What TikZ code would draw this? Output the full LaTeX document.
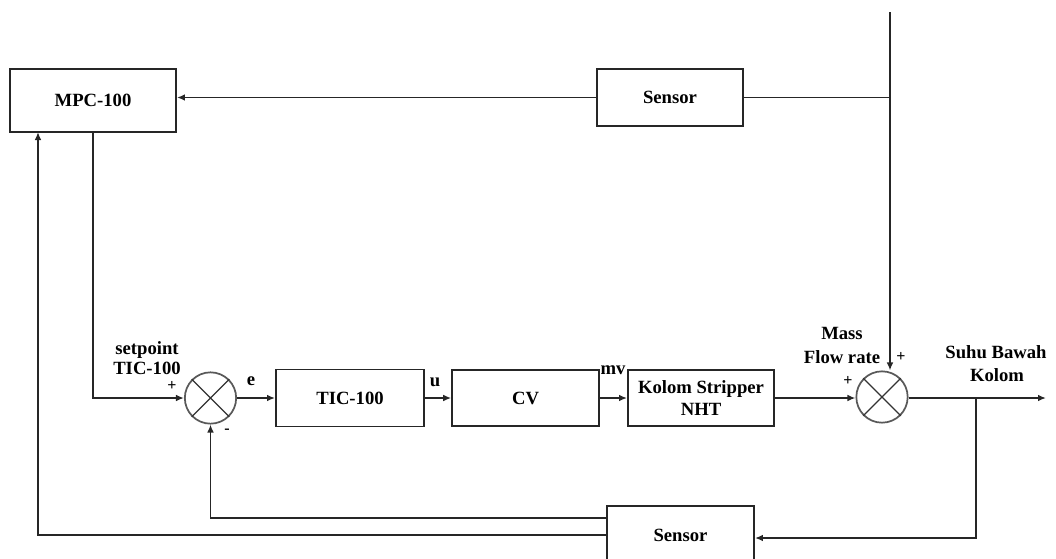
\documentclass[tikz,border=0pt]{standalone}
\usepackage{fontspec}
\setmainfont{Liberation Serif}
\usetikzlibrary{arrows.meta}
\begin{document}
\begin{tikzpicture}[x=0.75pt,y=-0.75pt,
  line width=1.3pt, draw=black!85,
  blk/.style={draw, line width=1.4pt, rectangle, inner sep=0pt, font=\fontsize{14}{17}\selectfont\bfseries, align=center},
  sumj/.style={draw=black!65, line width=1.3pt, circle, inner sep=0pt, minimum size=38.5pt},
  lbl/.style={font=\fontsize{14}{17}\selectfont\bfseries, inner sep=0pt, align=center},
  sgn/.style={font=\fontsize{12}{14}\selectfont\bfseries, inner sep=0pt},
  arr/.style={-{Latex[length=6pt,width=5pt]}}]
\clip (0,0) rectangle (1056,558);
\path[use as bounding box] (0,0) rectangle (1056,558);

\node[blk, minimum width=124.5pt, minimum height=47.25pt] (mpc) at (93,100.5) {MPC-100};
\node[blk, minimum width=109.5pt, minimum height=42.75pt] (senT) at (670,97.5) {Sensor};
\node[sumj] (sum1) at (210.5,398) {};
\node[blk, minimum width=111pt, minimum height=42.75pt] (tic) at (350,398) {TIC-100};
\node[blk, minimum width=110pt, minimum height=42pt] (cv) at (525.5,398) {CV};
\node[blk, minimum width=109.5pt, minimum height=42pt] (kol) at (701,398) {Kolom Stripper\\NHT};
\node[sumj] (sum2) at (882,397) {};
\node[blk, minimum width=110.25pt, minimum height=43.5pt] (senB) at (680.5,535) {Sensor};

\foreach \s in {sum1,sum2}{
  \draw[draw=black!80, line width=1pt] (\s.45) -- (\s.225) (\s.135) -- (\s.315);
}

\coordinate (top) at (890,12);
\coordinate (out) at (1046,398);
\coordinate (br) at (976,398);
\coordinate (fb) at (38,132);

% top sensor loop
\draw[arr] (top) -- (top |- sum2.north);
\draw (senT.east) -- (senT.east -| top);
\draw[arr] (senT.west) -- (senT.west -| mpc.east);

% MPC to summing junction
\draw[arr] (mpc.south) |- (sum1.west);

% forward path
\draw[arr] (sum1.east) -- (tic.west);
\draw[arr] (tic.east) -- (cv.west);
\draw[arr] (cv.east) -- (kol.west);
\draw[arr] (kol.east) -- (kol.east -| sum2.west);
\draw[arr] (sum2.east |- kol.east) -- (out);

% bottom feedback
\draw[arr] (br) |- ([yshift=-2.25pt]senB.east);
\draw[arr] ([yshift=12.75pt]senB.west) -| (sum1.south);
\draw[arr] (senB.west) -| (fb);

% labels
\node[lbl] (sp) at (147,350) {setpoint};
\node[lbl] (sptic) at (147,368) {TIC-100};
\node[sgn] (p1) at (172,386) {+};
\node[sgn] (m1) at (227,431) {-};
\node[lbl] (le) at (251,381) {e};
\node[lbl] (lu) at (435,382) {u};
\node[lbl] (lmv) at (613,370) {mv};
\node[lbl] (mass) at (842,333) {Mass};
\node[lbl] (flow) at (842,357) {Flow rate};
\node[sgn] (p2) at (901,357) {+};
\node[sgn] (p3) at (848,381) {+};
\node[lbl] (suhu) at (996,352) {Suhu Bawah};
\node[lbl] (kolom) at (997,375) {Kolom};
\end{tikzpicture}
\end{document}
